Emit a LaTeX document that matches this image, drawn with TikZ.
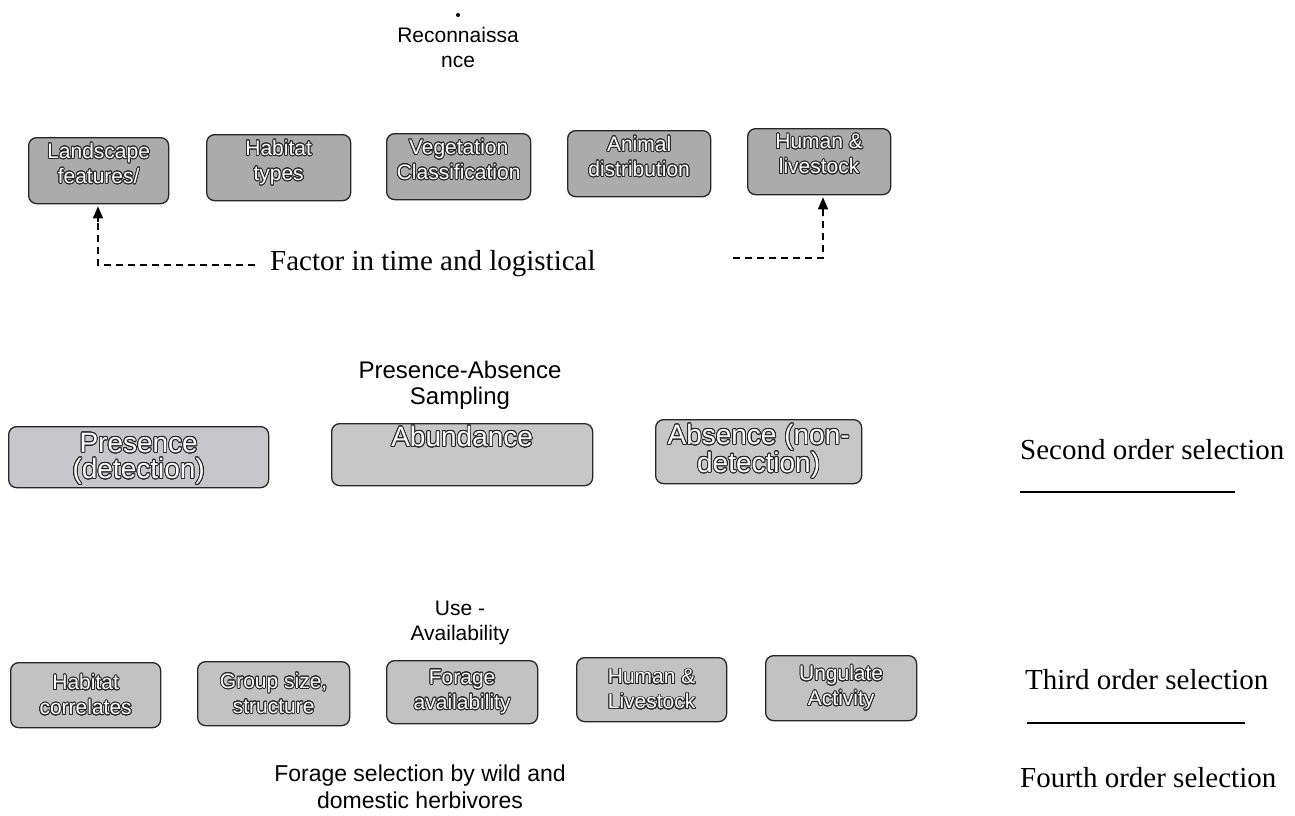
\documentclass[tikz,border=0pt]{standalone}
\usepackage{fontspec}
\setmainfont{Liberation Serif}
\setsansfont{Liberation Sans}
\usepackage{contour}
\contourlength{0.8pt}
\contournumber{24}
\newcommand{\olt}[1]{\contour{black!85}{\textcolor{white}{#1}}}
\usetikzlibrary{arrows.meta}
\begin{document}
\begin{tikzpicture}[x=1pt,y=-1pt,
  boxa/.style={draw=black!85,line width=1.3pt,rounded corners=8pt,fill=black!33,inner sep=0pt},
  boxb/.style={draw=black!85,line width=1.3pt,rounded corners=8pt,fill=black!22,inner sep=0pt},
  boxc/.style={draw=black!85,line width=1.3pt,rounded corners=8pt,fill=black!24,inner sep=0pt,font=\sffamily\fontsize{21}{25}\selectfont,align=center},
  txta/.style={inner sep=0pt,font=\sffamily\fontsize{21}{25}\selectfont,align=center,anchor=north},
  txtb/.style={inner sep=0pt,font=\sffamily\fontsize{28}{26}\selectfont,align=center,anchor=north},
  head/.style={font=\sffamily\fontsize{21}{25}\selectfont,align=center,inner sep=0pt},
  side/.style={font=\rmfamily\fontsize{29}{30}\selectfont,anchor=west,inner sep=0pt},
  dsh/.style={dashed,dash pattern=on 7pt off 5pt,line width=1.3pt},
  tip/.style={-{Triangle[length=12pt,width=10pt]},line width=1.3pt},
  rule/.style={line width=1.3pt}]
\useasboundingbox (0,0) rectangle (1295,815);
% headings
\fill (458,15) circle (2pt);
\node[head] (recon) at (458,47) {Reconnaissa\\nce};
\node[head,font=\sffamily\fontsize{24}{26}\selectfont] (pa) at (460,385) {Presence-Absence\\Sampling};
\node[head] (ua) at (460,623) {Use -\\Availability};
\node[font=\sffamily\fontsize{23}{27}\selectfont,align=center,inner sep=0pt] (forage) at (420,787) {Forage selection by wild and\\domestic herbivores};
% top row
\node[boxa,minimum width=140pt,minimum height=66pt,anchor=north west] (landscape) at (28,137) {};
\node[txta] at ([yshift=-6pt]landscape.north) {\olt{Landscape}\\\olt{features/}};
\node[boxa,minimum width=144pt,minimum height=66pt,anchor=north west] (habitat) at (206,134) {};
\node[txta] at ([yshift=-6pt]habitat.north) {\olt{Habitat}\\\olt{types}};
\node[boxa,minimum width=144pt,minimum height=66pt,anchor=north west] (veg) at (386,133) {};
\node[txta] at ([yshift=-6pt]veg.north) {\olt{Vegetation}\\\olt{Classification}};
\node[boxa,minimum width=143pt,minimum height=66pt,anchor=north west] (animal) at (567,130) {};
\node[txta] at ([yshift=-6pt]animal.north) {\olt{Animal}\\\olt{distribution}};
\node[boxa,minimum width=143pt,minimum height=66pt,anchor=north west] (human) at (747,128) {};
\node[txta] at ([yshift=-6pt]human.north) {\olt{Human \&}\\\olt{livestock}};
% factor text and dashed arrows
\node[font=\rmfamily\fontsize{29}{30}\selectfont,anchor=west,inner sep=0pt] (factor) at (270,264) {Factor in time and logistical};
\coordinate (la) at (98,265);
\coordinate (lb) at (255,265);
\coordinate (lt) at (98,222);
\coordinate (ra) at (733,258);
\coordinate (rb) at (823,258);
\coordinate (rt) at (823,216);
\draw[dsh] (lb) -- (la) -- (lt);
\draw[tip] (lt) -- ([yshift=-2pt]landscape.south -| la);
\draw[dsh] (ra) -- (rb) -- (rt);
\draw[tip] (rt) -- ([yshift=-2pt]human.south -| rb);
% middle row
\node[boxb,minimum width=260pt,minimum height=61pt,anchor=north west,fill=blue!8!black!22] (presence) at (8,426) {};
\node[txtb] at ([yshift=-7pt]presence.north) {\olt{Presence}\\\olt{(detection)}};
\node[boxb,minimum width=261pt,minimum height=62pt,anchor=north west] (abund) at (331,423) {};
\node[txtb] at ([yshift=-3pt]abund.north) {\olt{Abundance}};
\node[boxb,minimum width=206pt,minimum height=64pt,anchor=north west] (absence) at (655,419) {};
\node[txtb] at ([yshift=-5pt]absence.north) {\olt{Absence (non-}\\\olt{detection)}};
% bottom row
\node[boxc,minimum width=150pt,minimum height=65pt,anchor=north west] (hc) at (10,662) {\olt{Habitat}\\\olt{correlates}};
\node[boxc,minimum width=152pt,minimum height=64pt,anchor=north west] (gs) at (197,661) {\olt{Group size,}\\\olt{structure}};
\node[boxc,minimum width=151pt,minimum height=63pt,anchor=north west] (fa) at (386,660) {\olt{Forage}\\\olt{availability}};
\node[boxc,minimum width=150pt,minimum height=64pt,anchor=north west] (hl) at (576,657) {\olt{Human \&}\\\olt{Livestock}};
\node[boxc,minimum width=151pt,minimum height=65pt,anchor=north west] (ung) at (765,655) {\olt{Ungulate}\\\olt{Activity}};
% side labels
\node[side] (second) at (1020,450) {Second order selection};
\coordinate (s1) at (1020,492); \coordinate (s2) at (1235,492);
\draw[rule] (s1) -- (s2);
\node[side] (third) at (1025,680) {Third order selection};
\coordinate (t1) at (1027,723); \coordinate (t2) at (1245,723);
\draw[rule] (t1) -- (t2);
\node[side] (fourth) at (1020,778) {Fourth order selection};
\end{tikzpicture}
\end{document}
